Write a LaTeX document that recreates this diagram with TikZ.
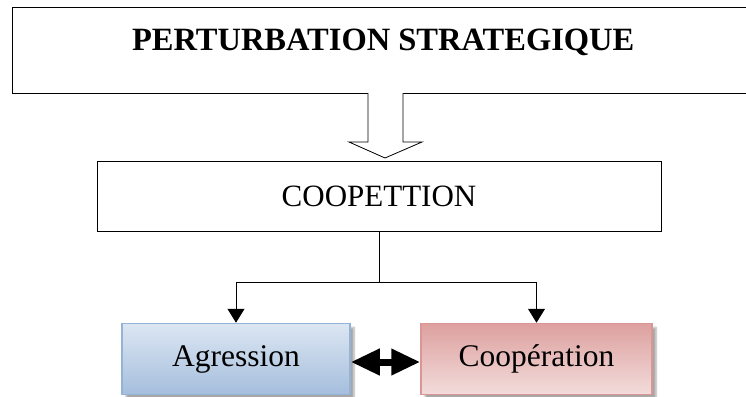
\documentclass[tikz,border=0pt]{standalone}
\usepackage{fontspec}
\setmainfont{Liberation Serif}
\usetikzlibrary{arrows.meta, positioning, calc, shadows.blur}
\definecolor{agBlue}{HTML}{95B3D7}
\definecolor{agBlueLight}{HTML}{DCE6F2}
\definecolor{coRed}{HTML}{D99694}
\definecolor{coRedLight}{HTML}{F2DCDB}

\begin{document}
\begin{tikzpicture}[x=1pt, y=-1pt,
  frame/.style={draw=black, line width=1pt, inner sep=0pt},
  tagbox/.style={line width=1.5pt, minimum width=228pt, minimum height=71pt,
                 inner sep=0pt, font=\fontsize{31.5}{36}\selectfont,
                 blur shadow={shadow xshift=4pt, shadow yshift=-4pt, shadow opacity=35}},
  arr/.style={-{Triangle[length=14pt, width=17pt]}, line width=1pt},
  swap/.style={{Triangle[length=29pt, width=25pt]}-{Triangle[length=29pt, width=25pt]},
               line width=7pt}
]
  \useasboundingbox (0,0) rectangle (746,396);
  \node[inner sep=0pt, anchor=north west, minimum width=734pt, minimum height=85pt,
        text height=22pt, text depth=22pt,
        font=\fontsize{32.5}{38}\selectfont\bfseries] (pert) at (12,8)
        {\hspace*{8pt}PERTURBATION STRATEGIQUE};
  \draw[line width=1pt] (pert.north east) -- (pert.north west) -- (pert.south west) -- (pert.south east);
  \draw[line width=0.8pt, fill=white]
    (368,93) -- (368,142) -- (349,142) -- (385,158) -- (422,142) -- (403,142) -- (403,93);
  \node[frame, minimum width=564pt, minimum height=70pt,
        font=\fontsize{31}{36}\selectfont] (coop) at (379,196) {COOPETTION};
  \node[tagbox, draw=agBlue, top color=agBlueLight, bottom color=agBlue!85] (agr) at (236,359) {Agression};
  \node[tagbox, draw=coRed, top color=coRed!90, bottom color=coRedLight,
        minimum width=231pt] (coo) at (536.5,359) {Coopération};
  \draw[line width=1pt] (coop.south) -- ++(0,51) coordinate (split);
  \draw[arr] (split) -| (agr.north);
  \draw[arr] (split) -| (coo.north);
  \draw[swap] ([yshift=-3pt]agr.east) -- ([yshift=-3pt]coo.west);
\end{tikzpicture}
\end{document}
